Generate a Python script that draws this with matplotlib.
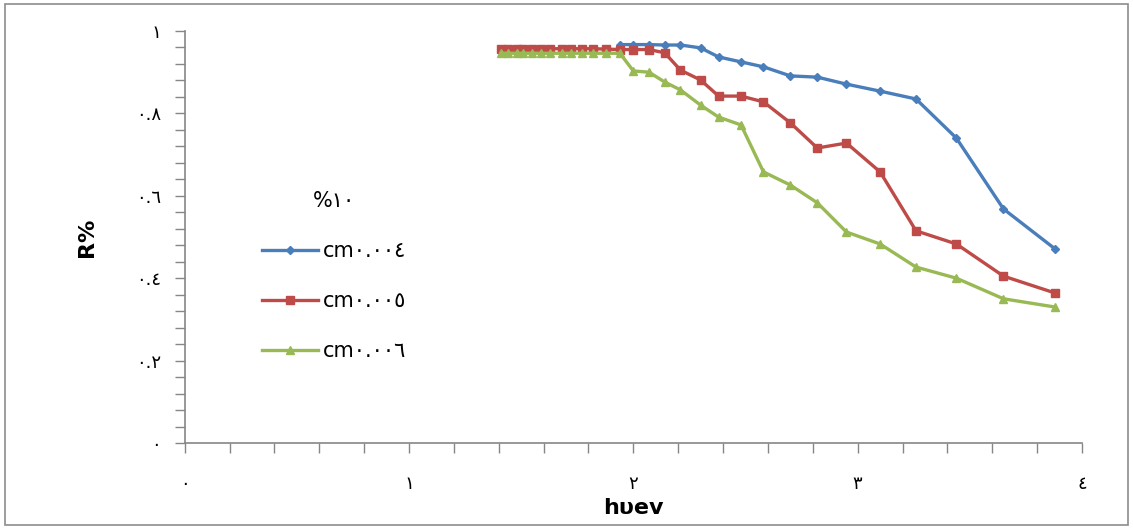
import matplotlib
matplotlib.use("Agg")
import matplotlib.pyplot as plt
from matplotlib.patches import Rectangle
from matplotlib.ticker import MultipleLocator

# ---------------- datos ----------------
# energia del foton (eV)
energia = [1.41, 1.44, 1.48, 1.51, 1.55, 1.59, 1.63, 1.68, 1.72, 1.77, 1.82, 1.88,
           1.94, 2.00, 2.07, 2.14, 2.21, 2.30, 2.38, 2.48, 2.58, 2.70, 2.82, 2.95,
           3.10, 3.26, 3.44, 3.65, 3.88]

# espesor 0.004 cm (empieza en 1.94 eV)
energia_azul = energia[12:]
r_004 = [0.967, 0.967, 0.967, 0.966, 0.966, 0.959, 0.937, 0.925, 0.913, 0.891, 0.888,
         0.871, 0.854, 0.835, 0.740, 0.568, 0.471]

# espesor 0.005 cm
r_005 = [0.957, 0.957, 0.957, 0.957, 0.957, 0.957, 0.957, 0.957, 0.957, 0.957, 0.957, 0.956,
         0.955, 0.955, 0.955, 0.947, 0.905, 0.881, 0.842, 0.842, 0.828, 0.777, 0.716, 0.728,
         0.658, 0.515, 0.483, 0.405, 0.364]

# espesor 0.006 cm
r_006 = [0.946, 0.946, 0.946, 0.946, 0.946, 0.946, 0.946, 0.946, 0.946, 0.946, 0.946, 0.946,
         0.946, 0.903, 0.900, 0.876, 0.857, 0.820, 0.791, 0.772, 0.658, 0.626, 0.583, 0.512,
         0.483, 0.427, 0.400, 0.350, 0.330]

etiquetas = ["cm٠.٠٠٤", "cm٠.٠٠٥", "cm٠.٠٠٦"]
titulo_leyenda = "%١٠"
xticks_txt = ["٠", "١", "٢", "٣", "٤"]
yticks_txt = ["٠", "٠.٢", "٠.٤", "٠.٦", "٠.٨", "١"]

# ---------------- figura ----------------
fig = plt.figure(figsize=(11.33, 5.29), dpi=100)
ax = fig.add_axes([0.163, 0.1626, 0.792, 0.7788])

ax.plot(energia_azul, r_004, color="#4A7EBB", lw=2.4, marker="D", ms=4,
        label=etiquetas[0])
ax.plot(energia, r_005, color="#BE4B48", lw=2.4, marker="s", ms=6,
        label=etiquetas[1])
ax.plot(energia, r_006, color="#98B954", lw=2.4, marker="^", ms=6,
        label=etiquetas[2])

ax.set_xlim(0, 4)
ax.set_ylim(0, 1)
ax.set_xticks([0, 1, 2, 3, 4])
ax.set_xticklabels(xticks_txt, fontsize=13)
ax.set_yticks([0, 0.2, 0.4, 0.6, 0.8, 1])
ax.set_yticklabels(yticks_txt, fontsize=13)
ax.xaxis.set_minor_locator(MultipleLocator(0.2))
ax.yaxis.set_minor_locator(MultipleLocator(0.04))
ax.tick_params(which="both", direction="out", length=7, color="#868686", width=1)
ax.tick_params(axis="x", which="major", pad=16)
ax.tick_params(axis="y", which="major", pad=10)

for s in ["top", "right"]:
    ax.spines[s].set_visible(False)
for s in ["left", "bottom"]:
    ax.spines[s].set_color("#868686")
    ax.spines[s].set_linewidth(1.2)

ax.set_xlabel("hυev", fontsize=16, fontweight="bold", labelpad=4)
ax.set_ylabel("R%", fontsize=16, fontweight="bold", labelpad=28)

leg = ax.legend(title=titulo_leyenda, loc="upper left",
                bbox_to_anchor=(243 / 1133, 1 - 172 / 529),
                bbox_transform=fig.transFigure, frameon=False,
                fontsize=15, title_fontsize=15, handlelength=2.7,
                labelspacing=1.45, handletextpad=0.25)
leg._legend_box.align = "center"

# marco exterior
fig.patches.append(Rectangle((0.004, 0.008), 0.992, 0.984, transform=fig.transFigure,
                             fill=False, edgecolor="#8c8c8c", lw=1.2))

fig.savefig("out.png", dpi=100)
